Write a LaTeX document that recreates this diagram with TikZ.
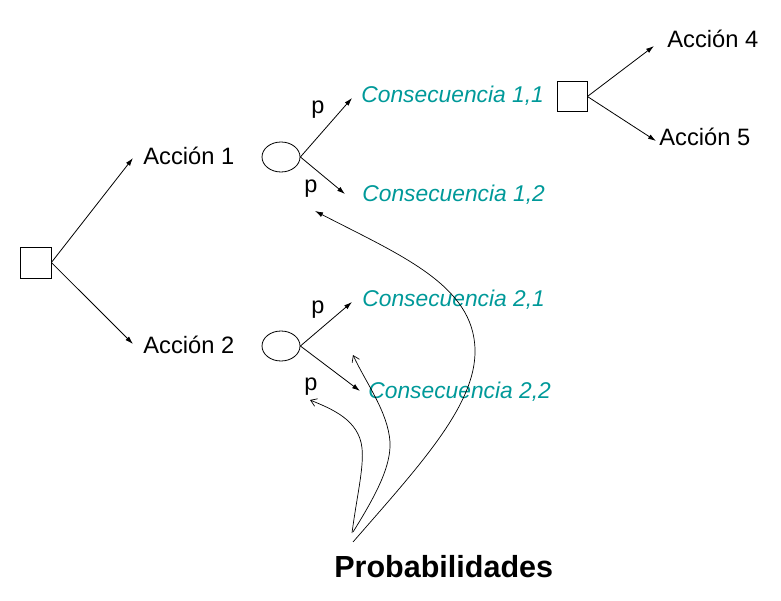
\documentclass[tikz,border=0pt]{standalone}
\usepackage{fontspec}
\setmainfont{Liberation Sans}
\usetikzlibrary{shapes.geometric,arrows.meta}
\definecolor{cons}{RGB}{0,153,153}
\begin{document}
\begin{tikzpicture}[x=1pt,y=-1pt,
  line width=0.8pt,
  dec/.style={draw,rectangle,minimum size=31pt,inner sep=0pt},
  chance/.style={draw,ellipse,minimum width=38pt,minimum height=30pt,inner sep=0pt},
  lbl/.style={anchor=base west,inner sep=0pt,font=\fontsize{23.7}{26}\selectfont},
  conslbl/.style={lbl,text=cons,font=\fontsize{22.8}{26}\selectfont\itshape},
  plbl/.style={anchor=base west,inner sep=0pt,font=\fontsize{23.5}{26}\selectfont},
  arr/.style={-{Latex[length=8pt,width=5pt]}},
  open/.style={-{Straight Barb[length=6pt,width=8pt]},line width=0.7pt},
  big/.style={-{Latex[length=8pt,width=5pt]},line width=0.7pt}]
\useasboundingbox (0,0) rectangle (781,601);

\node[dec] (d1) at (35.5,262.5) {};
\node[chance] (c1) at (281,157) {};
\node[chance] (c2) at (281,346) {};
\node[dec,minimum size=30pt] (d2) at (572,96.5) {};

\node[lbl] (a1) at (143,165) {Acción 1};
\node[lbl] (a2) at (143,353) {Acción 2};
\node[lbl] (a4) at (667,48) {Acción 4};
\node[lbl] (a5) at (659,146) {Acción 5};

\node[conslbl] (k11) at (361,103) {Consecuencia 1,1};
\node[conslbl] (k12) at (362,202) {Consecuencia 1,2};
\node[conslbl] (k21) at (362,307) {Consecuencia 2,1};
\node[conslbl] (k22) at (368,398) {Consecuencia 2,2};

\node[plbl] (p1) at (311,114) {p};
\node[plbl] (p2) at (304,193) {p};
\node[plbl] (p3) at (311,313) {p};
\node[plbl] (p4) at (304,390) {p};

\node[anchor=base west,inner sep=0pt,font=\fontsize{30.5}{33}\selectfont\bfseries] (prob) at (334,577) {Probabilidades};

\draw[arr] (d1.east) -- ([xshift=-10pt,yshift=7pt]a1.base west);
\draw[arr] (d1.east) -- ([xshift=-10pt,yshift=9pt]a2.base west);
\draw[arr] (c1.east) -- ([xshift=-9pt,yshift=5pt]k11.base west);
\draw[arr] (c1.east) -- ([xshift=-17pt,yshift=8pt]k12.base west);
\draw[arr] (c2.east) -- ([xshift=-10pt,yshift=5pt]k21.base west);
\draw[arr] (c2.east) -- ([xshift=-8pt,yshift=7pt]k22.base west);
\draw[arr] (d2.east) -- ([xshift=-13pt,yshift=2pt]a4.base west);
\draw[arr] (d2.east) -- ([xshift=-3pt,yshift=5pt]a5.base west);

\coordinate (sA) at (352,533);
\coordinate (sB) at (353,532);
\coordinate (sC) at (353,542);
\coordinate (tA) at (310,400);
\coordinate (tB) at (353,355);
\coordinate (tC) at (315,211);

\draw[open] (sA) .. controls (357,495) and (364,468) .. (362,448)
  .. controls (359,420) and (332,409) .. (tA);
\draw[open] (sB) .. controls (378,492) and (391,465) .. (390,442)
  .. controls (388,412) and (366,383) .. (tB);
\draw[big] (sC) .. controls (420,465) and (476,405) .. (475,350)
  .. controls (474,285) and (400,255) .. (tC);
\end{tikzpicture}
\end{document}
